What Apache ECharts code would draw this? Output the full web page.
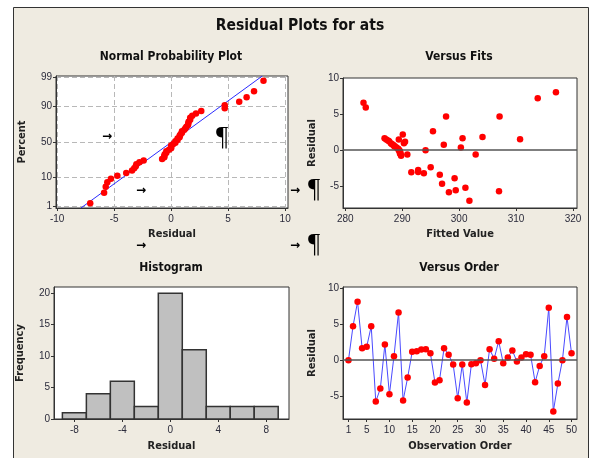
<!DOCTYPE html>
<html><head><meta charset="utf-8">
<script src="https://cdn.jsdelivr.net/npm/echarts@6/dist/echarts.min.js"></script>
<style>html,body{margin:0;padding:0;background:#fff}#c{width:590px;height:458px}</style>
</head><body><div id="c"></div>
<script>
// ---- data ----
const residuals = [0.0, 4.7, 8.1, 1.67, 1.85, 4.7, -5.74, -3.94, 2.18, -4.72,
  0.56, 6.62, -5.6, -2.41, 1.16, 1.25, 1.48, 1.5, 0.95, -3.1,
  -2.78, 1.67, 0.74, -0.6, -5.28, -0.6, -5.88, -0.56, -0.42, 0.0,
  -3.43, 1.53, 0.19, 2.64, -0.42, 0.37, 1.34, -0.19, 0.37, 0.83,
  0.74, -3.05, -0.79, 0.56, 7.27, -7.1, -3.24, 0.0, 5.97, 0.95];
const fittedValues = [294.1, 307.1, 317.0, 286.9, 304.1, 297.7, 307.0, 299.2, 290.1, 297.0,
  288.6, 283.2, 299.4, 295.0, 290.5, 287.7, 287.2, 289.4, 288.0, 291.6,
  292.8, 300.6, 288.4, 290.9, 301.1, 302.9, 298.2, 289.7, 289.6, 289.4,
  296.6, 310.7, 289.3, 295.4, 289.7, 289.0, 287.5, 289.6, 300.3, 288.2,
  297.3, 292.8, 289.8, 288.7, 313.8, 301.8, 293.8, 289.5, 283.6, 290.3];
const histBinCenters = [-8, -6, -4, -2, 0, 2, 4, 6, 8];
const histCounts = [1, 4, 6, 2, 20, 11, 2, 2, 2];
const nppXTicks = [-10, -5, 0, 5, 10];
const nppPercentTicks = [1, 10, 50, 90, 99];
const fitsXTicks = [280, 290, 300, 310, 320];
const residTicks = [-5, 0, 5, 10];
const histXTicks = [-8, -4, 0, 4, 8];
const histYTicks = [0, 5, 10, 15, 20];
const orderXTicks = [1, 5, 10, 15, 20, 25, 30, 35, 40, 45, 50];

// ---- helpers ----
function invNorm(p){
  const a=[-3.969683028665376e+01,2.209460984245205e+02,-2.759285104469687e+02,1.383577518672690e+02,-3.066479806614716e+01,2.506628277459239e+00];
  const b=[-5.447609879822406e+01,1.615858368580409e+02,-1.556989798598866e+02,6.680131188771972e+01,-1.328068155288572e+01];
  const c=[-7.784894002430293e-03,-3.223964580411365e-01,-2.400758277161838e+00,-2.549732539343734e+00,4.374664141464968e+00,2.938163982698783e+00];
  const d=[7.784695709041462e-03,3.224671290700398e-01,2.445134137142996e+00,3.754408661907416e+00];
  const pl=0.02425; let q,r;
  if(p<pl){q=Math.sqrt(-2*Math.log(p));return (((((c[0]*q+c[1])*q+c[2])*q+c[3])*q+c[4])*q+c[5])/((((d[0]*q+d[1])*q+d[2])*q+d[3])*q+1);}
  if(p<=1-pl){q=p-0.5;r=q*q;return (((((a[0]*r+a[1])*r+a[2])*r+a[3])*r+a[4])*r+a[5])*q/(((((b[0]*r+b[1])*r+b[2])*r+b[3])*r+b[4])*r+1);}
  q=Math.sqrt(-2*Math.log(1-p));return -(((((c[0]*q+c[1])*q+c[2])*q+c[3])*q+c[4])*q+c[5])/((((d[0]*q+d[1])*q+d[2])*q+d[3])*q+1);
}
const n = residuals.length;
const sorted = residuals.slice().sort((x,y)=>x-y);
const nppData = sorted.map((r,i)=>[r, invNorm((i+1-0.3)/(n+0.4))]);
const mean = residuals.reduce((s,v)=>s+v,0)/n;
const sd = Math.sqrt(residuals.reduce((s,v)=>s+(v-mean)*(v-mean),0)/(n-1));
const Z = 2.373;
const nppLine = [[mean - sd*Z, -Z], [mean + sd*Z, Z]];
const nppYTickZ = nppPercentTicks.map(p=>invNorm(p/100));

const FONT = '"Liberation Sans Narrow","DejaVu Sans Condensed","Arial Narrow",sans-serif';
const LBL = {fontSize:10, color:'#2b2b3b', fontFamily:'"Liberation Sans",Arial,sans-serif'};
const NAME = {fontSize:11, fontWeight:'bold', color:'#222', fontFamily:FONT};

function axis(gi, min, max, ticks, opt, margin){
  const o = {
    type:'value', gridIndex:gi, min:min, max:max,
    axisLine:{show:true, onZero:false, lineStyle:{color:'#333', width:1}},
    axisTick:{show:true, customValues:ticks, length:3, lineStyle:{color:'#333'}},
    axisLabel:Object.assign({customValues:ticks, margin:margin||4}, LBL),
    splitLine:{show:false},
    nameLocation:'middle', nameTextStyle:NAME
  };
  return Object.assign(o, opt||{});
}
const dashed = {show:true, lineStyle:{color:'#b8b8b8', type:[5,3], width:1}};

const grids = [
  {left:56, top:76, width:232, height:132},
  {left:343, top:78, width:234, height:130},
  {left:54, top:287, width:235, height:132},
  {left:343, top:287, width:234, height:132}
].map(g=>Object.assign(g,{show:true, backgroundColor:'#fff', borderColor:'#333', borderWidth:1, containLabel:false, outerBoundsMode:'none'}));

const zeroLine = {silent:true, symbol:'none', label:{show:false}, lineStyle:{color:'#555', type:'solid', width:1.5}, data:[{yAxis:0}], animation:false};

const texts = [
  {t:'Residual Plots for ats', x:300, y:26, s:15.5},
  {t:'Normal Probability Plot', x:171, y:57, s:12},
  {t:'Versus Fits', x:459, y:57, s:12},
  {t:'Histogram', x:171, y:268, s:12},
  {t:'Versus Order', x:459, y:268, s:12}
];
const marks = [
  {t:'\u2192', x:107, y:137, s:12}, {t:'\u2192', x:141, y:191, s:12}, {t:'\u2192', x:295, y:191, s:12},
  {t:'\u2192', x:141, y:246, s:12}, {t:'\u2192', x:295, y:246, s:12}
];
const pilcrows = [{x:222, y:138}, {x:314, y:190}, {x:314, y:245}];

const graphic = [
  {type:'rect', z:-10, shape:{x:13.5, y:7.5, width:575, height:470}, style:{fill:'#efebe1', stroke:'#333', lineWidth:1}}
].concat(texts.map(o=>({type:'text', z:50, x:o.x, y:o.y, style:{text:o.t, fontSize:o.s, fontWeight:'bold', fontFamily:FONT, fill:'#111', textAlign:'center', textVerticalAlign:'middle'}})))
 .concat(marks.map(o=>({type:'text', z:50, x:o.x, y:o.y, style:{text:o.t, fontSize:o.s, fontWeight:'bold', fontFamily:'"DejaVu Sans",sans-serif', fill:'#000', textAlign:'center', textVerticalAlign:'middle'}})))
 .concat(pilcrows.map(o=>({type:'text', z:50, x:o.x, y:o.y, style:{text:'\u00b6', fontSize:27, fontFamily:'"Liberation Serif","DejaVu Serif",serif', fill:'#000', textAlign:'center', textVerticalAlign:'middle'}})));

const option = {
  animation:false,
  grid: grids,
  graphic: graphic,
  xAxis: [
    axis(0, -10.1, 10.25, nppXTicks, {name:'Residual', nameGap:21, splitLine:dashed}, 6),
    axis(1, 279.6, 320.7, fitsXTicks, {name:'Fitted Value', nameGap:21}, 6),
    axis(2, -9.7, 9.9, histXTicks, {name:'Residual', nameGap:22}, 6),
    axis(3, -0.2, 51.2, orderXTicks, {name:'Observation Order', nameGap:22}, 6)
  ],
  yAxis: [
    axis(0, -Z, Z, nppYTickZ, {name:'Percent', nameGap:28, splitLine:dashed,
      axisLabel:Object.assign({customValues:nppYTickZ, margin:4, formatter:function(v){
        let best=0; for(let i=1;i<nppYTickZ.length;i++){ if(Math.abs(nppYTickZ[i]-v)<Math.abs(nppYTickZ[best]-v)) best=i; }
        return String(nppPercentTicks[best]); }}, LBL)}),
    axis(1, -8.1, 10.1, residTicks, {name:'Residual', nameGap:25}),
    axis(2, 0, 21, histYTicks, {name:'Frequency', nameGap:28}),
    axis(3, -8.15, 10.14, residTicks, {name:'Residual', nameGap:25})
  ],
  series: [
    {type:'line', xAxisIndex:0, yAxisIndex:0, data:nppLine, symbol:'none', lineStyle:{color:'#2b2bff', width:1}, z:2},
    {type:'scatter', xAxisIndex:0, yAxisIndex:0, data:nppData, symbolSize:6.5, itemStyle:{color:'#ff0000', opacity:1}, z:3},
    {type:'scatter', xAxisIndex:1, yAxisIndex:1, data:residuals.map((r,i)=>[fittedValues[i], r]), symbolSize:6.5, itemStyle:{color:'#ff0000', opacity:1}, markLine:zeroLine, z:3},
    {type:'custom', xAxisIndex:2, yAxisIndex:2, data:histBinCenters.map((c,i)=>[c, histCounts[i]]),
      renderItem:function(params, api){
        const cx = api.value(0), cnt = api.value(1);
        const p0 = api.coord([cx-1, cnt]), p1 = api.coord([cx+1, 0]);
        return {type:'rect', shape:{x:p0[0], y:p0[1], width:p1[0]-p0[0], height:p1[1]-p0[1]},
          style:{fill:'#c0c0c0', stroke:'#333', lineWidth:1.5}};
      }, z:3},
    {type:'line', xAxisIndex:3, yAxisIndex:3, data:residuals.map((r,i)=>[i+1, r]), symbol:'circle', symbolSize:6.5, showSymbol:true,
      lineStyle:{color:'#4a4aff', width:1}, itemStyle:{color:'#ff0000', borderWidth:0}, markLine:zeroLine, z:3}
  ]
};
const chart = echarts.init(document.getElementById('c'), null, {renderer:'canvas'});
chart.setOption(option);
</script></body></html>
